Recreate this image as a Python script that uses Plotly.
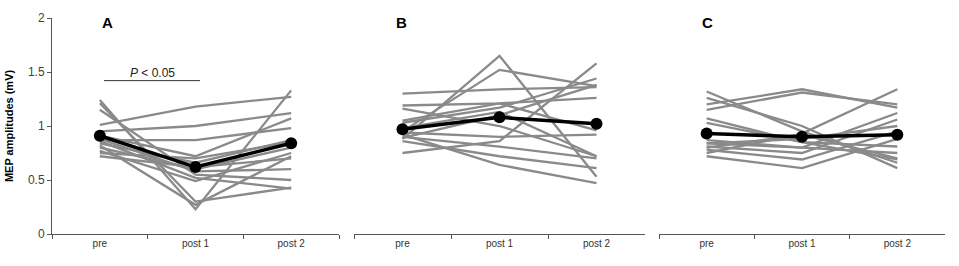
import plotly.graph_objects as go

categories = ["pre", "post 1", "post 2"]

# Panel A individual subjects (pre, post1, post2)
subjects_A = [
    [1.01, 1.18, 1.27],
    [0.95, 1.00, 1.12],
    [1.24, 0.23, 1.33],
    [1.21, 0.30, 0.43],
    [1.15, 0.55, 0.50],
    [0.87, 0.87, 0.98],
    [0.91, 0.72, 1.07],
    [0.84, 0.66, 0.87],
    [0.80, 0.60, 0.80],
    [0.77, 0.49, 0.75],
    [0.72, 0.62, 0.70],
    [0.88, 0.58, 0.60],
    [0.86, 0.52, 0.42],
    [0.75, 0.70, 0.85],
    [0.82, 0.27, 0.72],
]
mean_A = [0.91, 0.62, 0.84]

subjects_B = [
    [0.88, 1.65, 0.53],
    [0.95, 1.52, 1.37],
    [1.30, 1.34, 1.36],
    [1.19, 1.21, 1.26],
    [1.16, 1.00, 0.72],
    [0.75, 0.86, 1.58],
    [0.92, 0.64, 0.47],
    [0.86, 0.72, 0.61],
    [1.03, 1.17, 1.44],
    [0.89, 1.10, 1.38],
    [0.98, 1.13, 0.72],
    [0.90, 0.81, 0.70],
    [0.94, 0.90, 0.92],
    [1.05, 1.21, 0.96],
]
mean_B = [0.97, 1.08, 1.02]

subjects_C = [
    [1.20, 1.34, 1.17],
    [1.15, 1.31, 1.20],
    [1.32, 0.95, 0.66],
    [1.26, 1.00, 0.61],
    [1.07, 0.85, 0.69],
    [0.75, 0.93, 1.34],
    [0.84, 0.80, 1.12],
    [0.72, 0.61, 0.88],
    [0.78, 0.69, 0.95],
    [0.81, 0.75, 1.06],
    [0.87, 0.80, 0.75],
    [1.03, 0.85, 0.81],
    [0.84, 0.88, 1.00],
    [0.80, 0.92, 0.70],
]
mean_C = [0.93, 0.90, 0.92]

panel_letters = ["A", "B", "C"]
y_ticks = [0, 0.5, 1, 1.5, 2]
y_tick_text = ["0", "0.5", "1", "1.5", "2"]

W, H = 959, 266
fig = go.Figure()

panels = [(subjects_A, mean_A), (subjects_B, mean_B), (subjects_C, mean_C)]
for i, (subs, mean) in enumerate(panels):
    xa = "x" if i == 0 else f"x{i+1}"
    ya = "y" if i == 0 else f"y{i+1}"
    for s in subs:
        fig.add_trace(go.Scatter(x=categories, y=s, mode="lines",
                                 line=dict(color="#8a8a8a", width=2.3),
                                 xaxis=xa, yaxis=ya, showlegend=False, hoverinfo="skip"))
    fig.add_trace(go.Scatter(x=categories, y=mean, mode="lines+markers",
                             line=dict(color="black", width=3.5),
                             marker=dict(color="black", size=12),
                             xaxis=xa, yaxis=ya, showlegend=False))

ybot = (H - 234) / H
ytop = (H - 18) / H
domains = [(52 / W, 339 / W), (354 / W, 645 / W), (659 / W, 945 / W)]

axis_common = dict(type="category", range=[-0.5, 2.5], tickson="boundaries",
                   ticks="outside", ticklen=4, tickcolor="#555",
                   showline=True, linecolor="#555", linewidth=1,
                   showgrid=False, zeroline=False, automargin=False,
                   tickfont=dict(family="Liberation Sans", size=10, color="#333"),
                   categoryorder="array", categoryarray=categories)

layout = dict(width=W, height=H, margin=dict(l=0, r=0, t=0, b=0, autoexpand=False),
              paper_bgcolor="white", plot_bgcolor="white")
for i in range(3):
    key = "xaxis" if i == 0 else f"xaxis{i+1}"
    yk = "y" if i == 0 else f"y{i+1}"
    layout[key] = dict(axis_common, domain=list(domains[i]), anchor=yk)

layout["yaxis"] = dict(domain=[ybot, ytop], range=[0, 2], anchor="x",
                       tickvals=y_ticks, ticktext=y_tick_text,
                       ticks="outside", ticklen=4, tickcolor="#555",
                       showline=True, linecolor="#555", linewidth=1,
                       showgrid=False, zeroline=False, automargin=False,
                       tickfont=dict(family="Liberation Sans", size=12, color="#404040"),
                       title=dict(text="<b>MEP amplitudes (mV)</b>", standoff=12,
                                  font=dict(family="Liberation Sans", size=11, color="black")))
for i in (2, 3):
    layout[f"yaxis{i}"] = dict(domain=[ybot, ytop], range=[0, 2], anchor=f"x{i}",
                               visible=False, automargin=False)

fig.update_layout(**layout)

letter_x = [107, 401, 707]
for lx, letter in zip(letter_x, panel_letters):
    fig.add_annotation(x=lx / W, y=(H - 23) / H, xref="paper", yref="paper",
                       xanchor="center", yanchor="middle",
                       text=f"<b>{letter}</b>", showarrow=False,
                       font=dict(family="Liberation Sans", size=15, color="black"))

fig.add_shape(type="line", xref="paper", yref="y", x0=104 / W, x1=200 / W,
              y0=1.42, y1=1.42, line=dict(color="#333", width=1))
fig.add_annotation(x=152 / W, y=1.49, xref="paper", yref="y",
                   xanchor="center", yanchor="middle",
                   text="<i>P</i> < 0.05", showarrow=False,
                   font=dict(family="Liberation Sans", size=12, color="#222"))

fig.write_html("out.html")
